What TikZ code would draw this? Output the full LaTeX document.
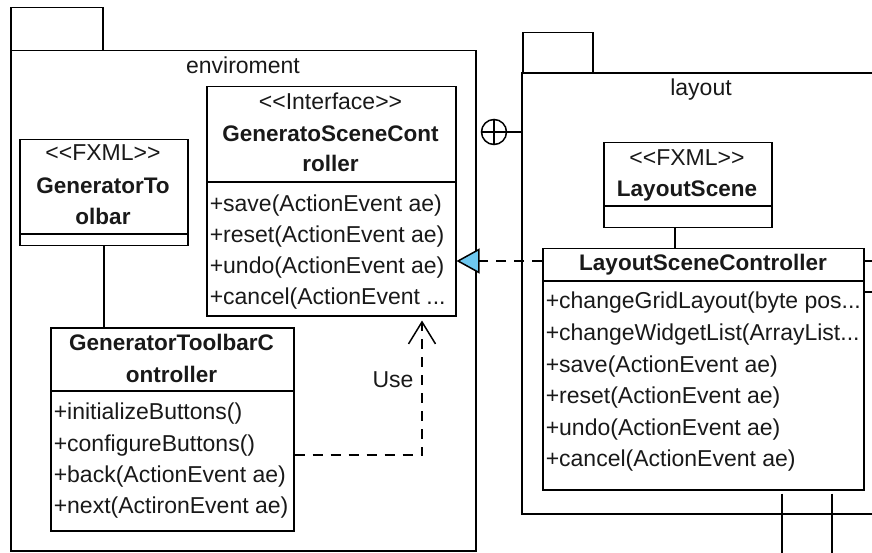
\documentclass[tikz,border=0pt]{standalone}
\usepackage{fontspec}
\setmainfont{Liberation Sans}
\usetikzlibrary{arrows.meta}
\definecolor{umlblue}{RGB}{110,200,240}
\definecolor{ink}{RGB}{25,25,25}
% stereotype brackets, kept apart so no << >> ligature is formed
\newcommand{\stereo}[1]{<\kern0pt<#1>\kern0pt>}

\begin{document}
\begin{tikzpicture}[x=1pt,y=-1pt,
  line width=1.5pt, draw=black,
  every node/.style={font=\fontsize{23}{27}\selectfont, text=ink,
    inner sep=0pt, text height=16pt, text depth=4.5pt},
  classbox/.style={draw, rectangle, anchor=north west},
  member/.style={anchor=west},
  cname/.style={font=\fontsize{22.5}{27}\selectfont\bfseries},
  dep/.style={dash pattern=on 10pt off 8pt},
]
\useasboundingbox (0,0) rectangle (872,553);
\clip (0,0) rectangle (872,553);

% ---------- package: enviroment ----------
\node[classbox, minimum width=92pt, minimum height=43pt] (envtab) at (10,7) {};
\node[classbox, minimum width=465pt, minimum height=500pt] (envpkg) at (10,50) {};
\node (envlabel) at (243,68) {enviroment};

% interface
\node[classbox, minimum width=249pt, minimum height=229pt] (iface) at (206,86) {};
\draw (iface.west |- 0,182) -- (iface.east |- 0,182);
\node (ifst) at (330.5,104) {\stereo{Interface}};
\node[cname] (ifn1) at (330.5,136) {GeneratoSceneCont};
\node[cname] (ifn2) at (330.5,166) {roller};
\node[member] (ifm1) at (209,206) {+save(ActionEvent ae)};
\node[member] (ifm2) at (209,237) {+reset(ActionEvent ae)};
\node[member] (ifm3) at (209,268) {+undo(ActionEvent ae)};
\node[member] (ifm4) at (209,299) {+cancel(ActionEvent ...};

% FXML toolbar
\node[classbox, minimum width=168pt, minimum height=106pt] (gtb) at (19,139) {};
\draw (gtb.west |- 0,234) -- (gtb.east |- 0,234);
\node (gtbst) at (103,155) {\stereo{FXML}};
\node[cname] (gtbn1) at (103,188) {GeneratorTo};
\node[cname] (gtbn2) at (103,219) {olbar};

% toolbar controller
\node[classbox, minimum width=243pt, minimum height=203pt] (gtc) at (50,327) {};
\draw (gtc.west |- 0,391) -- (gtc.east |- 0,391);
\node[cname] (gtcn1) at (171.5,345) {GeneratorToolbarC};
\node[cname] (gtcn2) at (171.5,377) {ontroller};
\node[member] (gtcm1) at (53,414) {+initializeButtons()};
\node[member] (gtcm2) at (53,446) {+configureButtons()};
\node[member] (gtcm3) at (53,477) {+back(ActionEvent ae)};
\node[member] (gtcm4) at (53,508) {+next(ActironEvent ae)};

\draw (gtb.south) -- (gtb.south |- gtc.north);

% Use dependency
\draw[dep, shorten >=4pt, -{Straight Barb[length=22pt,width=27pt]}]
  (gtc.east |- 0,455) -| (422,0 |- iface.south);
\node (uselabel) at (393,382) {Use};

% ---------- package: layout ----------
\node[classbox, minimum width=70pt, minimum height=41pt] (laytab) at (522,32) {};
\coordinate (layNW) at (522,73);
\coordinate (laySW) at (522,514);
\draw (880,73) -- (layNW) -- (laySW) -- (880,514);
\node (laylabel) at (701,90) {layout};

% nesting mark
\node[draw, circle, minimum size=25pt, text height=0pt, text depth=0pt] (nest) at (494,132) {};
\draw (nest.north) -- (nest.south) (nest.west) -- (nest.east);
\draw (nest.east) -- (layNW |- nest.east);

% FXML layout scene
\node[classbox, minimum width=168pt, minimum height=85pt] (ls) at (603,142) {};
\draw (ls.west |- 0,206) -- (ls.east |- 0,206);
\node (lsst) at (687,160) {\stereo{FXML}};
\node[cname] (lsn) at (687,191) {LayoutScene};

% layout scene controller
\node[classbox, minimum width=321pt, minimum height=241pt] (lsc) at (542,248) {};
\draw (lsc.west |- 0,281) -- (lsc.east |- 0,281);
\node[cname] (lscn) at (703,265) {LayoutSceneController};
\node[member] (lscm1) at (545,303) {+changeGridLayout(byte pos...};
\node[member] (lscm2) at (545,335) {+changeWidgetList(ArrayList...};
\node[member] (lscm3) at (545,367) {+save(ActionEvent ae)};
\node[member] (lscm4) at (545,398) {+reset(ActionEvent ae)};
\node[member] (lscm5) at (545,430) {+undo(ActionEvent ae)};
\node[member] (lscm6) at (545,461) {+cancel(ActionEvent ae)};

\draw ([xshift=-13pt]ls.south) -- ([xshift=-13pt]ls.south |- lsc.north);

% realization of the interface
\draw[dep, -{Triangle[length=23pt,width=25pt,fill=umlblue]}]
  (lsc.west |- 0,261) -- (iface.east |- 0,261);

% connectors leaving the view
\coordinate (offE1) at (872,261);
\coordinate (offE2) at (872,292);
\coordinate (offS1) at (782,553);
\coordinate (offS2) at (832,553);
\draw[dep] (lsc.east |- offE1) -- (offE1);
\draw (lsc.east |- offE2) -- (offE2);
\draw ([yshift=-3pt]lsc.south -| offS1) -- (offS1);
\draw ([yshift=-3pt]lsc.south -| offS2) -- (offS2);
\end{tikzpicture}
\end{document}
